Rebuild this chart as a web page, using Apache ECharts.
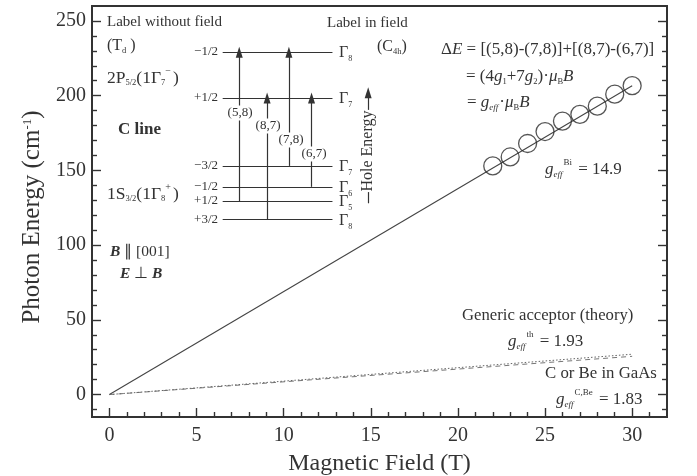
<!DOCTYPE html>
<html><head><meta charset="utf-8">
<style>html,body{margin:0;padding:0;background:#fff}#c{width:697px;height:476px}</style>
<script src="https://cdn.jsdelivr.net/npm/echarts@6/dist/echarts.min.js"></script>
</head><body><div id="c"></div>
<script>
const fieldBi=[22,23,24,25,26,27,28,29,30];
const energyBi=[153,159,168,176,183,187.5,193,201,206.7];
const fitBi=[[0,0],[30,206.7]];
const fitTheory=[[0,0],[30,27]];
const fitCBe=[[0,0],[30,25.6]];
const xMajor=[0,5,10,15,20,25,30];
const xMinor=[1,2,3,4,6,7,8,9,11,12,13,14,16,17,18,19,21,22,23,24,26,27,28,29,31];
const yMajor=[0,50,100,150,200,250];
const yMinor=[-10,10,20,30,40,60,70,80,90,110,120,130,140,160,170,180,190,210,220,230,240];
const levelY=[229,198.5,153,139,129.5,117];
const levelX=[6.5,12.8];
const arrows=[[7.45,129.5,229],[9.05,117,198.5],[10.3,153,229],[11.6,139,198.5]];
const ink='#333333', serif='"Liberation Serif","Times New Roman",serif';

const chart=echarts.init(document.getElementById('c'),null,{renderer:'canvas'});
const G={left:92,top:6,width:575,height:411,outerBoundsMode:'none',containLabel:false};
function xA(vals,len,lab){return {type:'value',min:-1,max:32,position:'bottom',splitLine:{show:false},
  axisLine:{show:true,onZero:false,lineStyle:{color:ink,width:2}},
  axisTick:{show:true,inside:true,length:len,customValues:vals,lineStyle:{color:ink,width:1.4}},
  axisLabel:{show:lab,customValues:vals,color:ink,fontFamily:serif,fontSize:20,margin:9}};}
function yA(vals,len,lab,pos){return {type:'value',min:-15,max:260,position:pos,splitLine:{show:false},
  axisLine:{show:true,onZero:false,lineStyle:{color:ink,width:2}},
  axisTick:{show:true,inside:true,length:len,customValues:vals,lineStyle:{color:ink,width:1.4}},
  axisLabel:{show:lab,customValues:vals,color:ink,fontFamily:serif,fontSize:20,margin:6}};}

const xAxes=[xA(xMajor,9,true),xA(xMinor,5,false)];
Object.assign(xAxes[0],{name:'Magnetic Field (T)',nameLocation:'middle',nameGap:35,
  nameTextStyle:{color:ink,fontFamily:serif,fontSize:24}});
xAxes.push({type:'value',min:-1,max:32,position:'top',axisLine:{show:true,onZero:false,lineStyle:{color:ink,width:2}},axisTick:{show:false},axisLabel:{show:false},splitLine:{show:false}});
const yAxes=[yA(yMajor,9,true,'left'),yA(yMinor,5,false,'left'),yA(yMajor,9,false,'right'),yA(yMinor,5,false,'right')];
Object.assign(yAxes[0],{name:'{a|Photon Energy (cm}{b|-1}{a|)}',nameLocation:'middle',nameGap:47,
  nameTextStyle:{color:ink,fontFamily:serif,fontSize:25,padding:[0,11,0,0],rich:{a:{fontSize:25,fontFamily:serif,color:ink},b:{fontSize:13,fontFamily:serif,color:ink,padding:[0,0,9,0]}}}});

const seg=(x1,y1,x2,y2,extra)=>[{coord:[x1,y1],symbol:'none'},Object.assign({coord:[x2,y2],symbol:'none'},extra||{})];
const arrowEnd={symbol:'triangle',symbolSize:[7,11]};
const diagram=[];
levelY.forEach(y=>diagram.push(seg(levelX[0],y,levelX[1],y)));
arrows.forEach(a=>diagram.push(seg(a[0],a[1],a[0],a[2],arrowEnd)));
diagram.push(seg(14.85,128,14.85,135.5));
diagram.push(seg(14.85,190.5,14.85,202,arrowEnd));

const line=(data,type,w,c)=>({type:'line',data,showSymbol:false,symbol:'none',silent:true,z:2,
  lineStyle:{color:c,width:w,type}});
const series=[
 line(fitBi,'solid',1.1,'#444'),
 line(fitTheory,[1.5,2],1,'#666'),
 line(fitCBe,[5,4],0.9,'#666'),
 {type:'scatter',data:fieldBi.map((x,i)=>[x,energyBi[i]]),symbol:'circle',symbolSize:18,silent:true,z:3,
  itemStyle:{color:'rgba(0,0,0,0)',borderColor:'#2a2a2a',borderWidth:1.3}},
 {type:'scatter',data:[],silent:true,z:2,
  markLine:{silent:true,animation:false,symbol:'none',label:{show:false},emphasis:{disabled:true},
   lineStyle:{color:'#333',width:1.2,type:'solid'},data:diagram}}
];

chart.setOption({animation:false,backgroundColor:'#fff',grid:G,xAxis:xAxes,yAxis:yAxes,series});

const mctx=document.createElement('canvas').getContext('2d');
const gfx=[];
function run(x,yc,parts,size){
  let cx=x;
  parts.forEach(p=>{
    const o=typeof p==='string'?{t:p}:p;
    const fs=o.s||size; const font=(o.b?'bold ':'')+(o.i?'italic ':'')+fs+'px "Liberation Serif"';
    mctx.font=font;
    gfx.push({type:'text',silent:true,z:20,x:cx,y:yc+(o.d||0),
      style:{text:o.t,fill:ink,font,textVerticalAlign:'middle',textAlign:'left'}});
    cx+=mctx.measureText(o.t).width+(o.g||0);
  });
}
const sub=(t,s)=>({t,s:s||8.5,d:5});
const sup=(t,s)=>({t,s:s||9,d:-7,g:2});
const geff=()=>[{t:'g',i:1},{t:'eff',i:1,s:9,d:5,g:1}];

run(107,22,['Label without field'],15);
run(107,46,['(T',sub('d'),' )'],16);
run(107,78,['2P',sub('5/2'),'(1Γ',sub('7'),sup('−',10),')'],17.5);
run(118,130,[{t:'C line',b:1}],17);
run(107,194,['1S',sub('3/2'),'(1Γ',sub('8'),sup('+',10),')'],17.5);
run(110,252,[{t:'B',b:1,i:1},' ∥ [001]'],15.5);
run(120,274,[{t:'E',b:1,i:1},' ⊥ ',{t:'B',b:1,i:1}],15.5);
run(327,23,['Label in field'],15);
run(377,47,['(C',sub('4h'),')'],16);

[['−1/2',52],['+1/2',98],['−3/2',166],['−1/2',187],['+1/2',201],['+3/2',220]].forEach(([t,y])=>{
  gfx.push({type:'text',silent:true,z:20,x:218,y,style:{text:t,fill:ink,font:'13px "Liberation Serif"',textAlign:'right',textVerticalAlign:'middle'}});
});
[['8',52],['7',98],['7',166],['6',187],['5',201],['8',220]].forEach(([t,y])=>{
  run(339,y+1,['Γ',{t,s:8,d:6}],16);
});
[['(5,8)',240,113],['(8,7)',268,126],['(7,8)',291,140],['(6,7)',314,154]].forEach(([t,x,y])=>{
  gfx.push({type:'text',silent:true,z:20,x,y,style:{text:t,fill:ink,font:'13px "Liberation Serif"',textAlign:'center',textVerticalAlign:'middle',backgroundColor:'#fff',padding:[1,0]}});
});
gfx.push({type:'text',silent:true,z:20,x:368,y:151,rotation:Math.PI/2,style:{text:'Hole Energy',fill:ink,font:'16px "Liberation Serif"',textAlign:'center',textVerticalAlign:'middle'}});

run(441,50,['Δ',{t:'E',i:1},' = [(5,8)-(7,8)]+[(8,7)-(6,7)]'],17);
run(466,77,['= (4',{t:'g',i:1},sub('1'),'+7',{t:'g',i:1},sub('2'),')·',{t:'μ',i:1},sub('B'),{t:'B',i:1}],17);
run(467,103,['= ',...geff(),'·',{t:'μ',i:1},sub('B'),{t:'B',i:1}],17);
run(545,170,[...geff(),sup('Bi'),' = 14.9'],17);
run(462,316,['Generic acceptor (theory)'],16.7);
run(508,342,[...geff(),sup('th'),' = 1.93'],17);
run(545,374,['C or Be in GaAs'],16.8);
run(556,400,[...geff(),sup('C,Be'),' = 1.83'],17);

chart.setOption({graphic:{elements:gfx}});
</script></body></html>
